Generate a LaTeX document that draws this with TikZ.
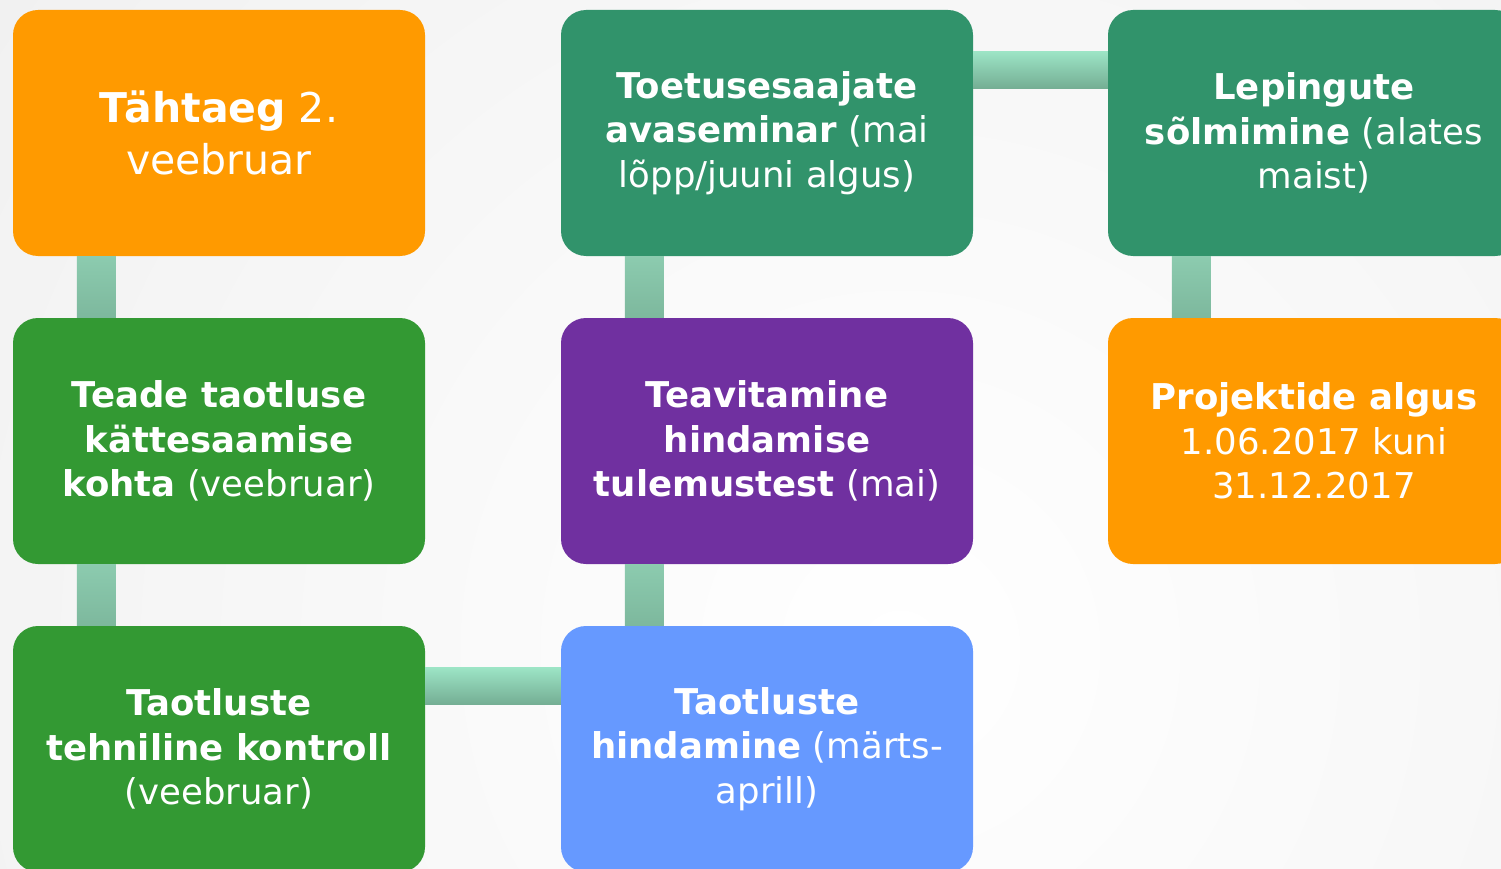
\documentclass[tikz,border=0pt]{standalone}
\usepackage{fontspec}
\setmainfont{DejaVu Sans}
\definecolor{cOrange}{HTML}{FF9A00}
\definecolor{cTeal}{HTML}{31936B}
\definecolor{cGreen}{HTML}{339933}
\definecolor{cPurple}{HTML}{7030A0}
\definecolor{cBlue}{HTML}{6699FF}
\definecolor{cBarTop}{HTML}{9CE4C5}
\definecolor{cBarBot}{HTML}{74AD93}
\definecolor{cVTop}{HTML}{8CCBAF}
\definecolor{cVBot}{HTML}{7DB89D}
\definecolor{cBg}{HTML}{E6E6E6}
\begin{document}
\begin{tikzpicture}[x=1pt,y=-1pt,
  stepbox/.style={rounded corners=25pt, minimum width=412pt, minimum height=246pt,
    inner sep=0pt, align=center, text=white,
    font=\fontsize{35.5}{44.5}\selectfont},
  bigtext/.style={font=\fontsize{41}{52}\selectfont},
  hbar/.style={top color=cBarTop, bottom color=cBarBot, draw=none},
  vbar/.style={top color=cVTop, bottom color=cVBot, draw=none}]
\useasboundingbox (0,0) rectangle (1501,869);
\begin{scope}
\clip (0,0) rectangle (1501,869);
\shade[inner color=white, outer color=cBg] (900,650) circle (2000pt);
\end{scope}
\node[stepbox, bigtext, fill=cOrange] (n1) at (219,133) {\textbf{Tähtaeg} 2.\\veebruar};
\node[stepbox, fill=cGreen] (n2) at (219,441) {\textbf{Teade taotluse}\\\textbf{kättesaamise}\\\textbf{kohta} (veebruar)};
\node[stepbox, fill=cGreen] (n3) at (219,749) {\textbf{Taotluste}\\\textbf{tehniline kontroll}\\(veebruar)};
\node[stepbox, fill=cBlue] (n4) at (767,749) {\textbf{Taotluste}\\\textbf{hindamine} (märts-\\aprill)};
\node[stepbox, fill=cPurple] (n5) at (767,441) {\textbf{Teavitamine}\\\textbf{hindamise}\\\textbf{tulemustest} (mai)};
\node[stepbox, fill=cTeal] (n6) at (767,133) {\textbf{Toetusesaajate}\\\textbf{avaseminar} (mai\\lõpp/juuni algus)};
\node[stepbox, fill=cTeal] (n7) at (1314,133) {\textbf{Lepingute}\\\textbf{sõlmimine} (alates\\maist)};
\node[stepbox, fill=cOrange] (n8) at (1314,441) {\textbf{Projektide algus}\\1.06.2017 kuni\\31.12.2017};
\shade[vbar] ([xshift=64pt]n1.south west) rectangle ([xshift=103pt]n2.north west);
\shade[vbar] ([xshift=64pt]n2.south west) rectangle ([xshift=103pt]n3.north west);
\shade[hbar] ([yshift=-42pt]n3.north east) rectangle ([yshift=-79pt]n4.north west);
\shade[vbar] ([xshift=64pt]n5.south west) rectangle ([xshift=103pt]n4.north west);
\shade[vbar] ([xshift=64pt]n6.south west) rectangle ([xshift=103pt]n5.north west);
\shade[hbar] ([yshift=-42pt]n6.north east) rectangle ([yshift=-79pt]n7.north west);
\shade[vbar] ([xshift=64pt]n7.south west) rectangle ([xshift=103pt]n8.north west);
\end{tikzpicture}
\end{document}
